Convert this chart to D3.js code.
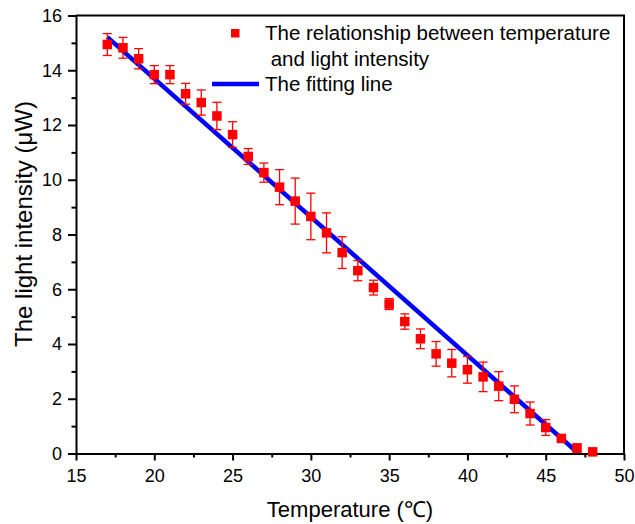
<!DOCTYPE html>
<html>
<head>
<meta charset="utf-8">
<script src="https://cdn.jsdelivr.net/npm/d3@7"></script>
<style>
  html, body { margin: 0; padding: 0; background: #fff; }
  svg { display: block; }
  text { font-family: "Liberation Sans", Arial, sans-serif; fill: #000; }
</style>
</head>
<body>
<svg id="chart" width="635" height="524"></svg>
<script>
// ---- data ----
const temperature = [17,18,19,20,21,22,23,24,25,26,27,28,29,30,31,32,33,34,35,36,37,38,39,40,41,42,43,44,45,46,47,48];
const intensity   = [14.94,14.82,14.42,13.84,13.84,13.14,12.82,12.33,11.65,10.85,10.26,9.73,9.22,8.66,8.06,7.34,6.68,6.06,5.46,4.82,4.19,3.64,3.30,3.06,2.80,2.46,1.98,1.46,0.95,0.55,0.20,0.06];
const errors      = [0.40,0.38,0.37,0.33,0.33,0.38,0.46,0.50,0.47,0.29,0.35,0.64,0.84,0.85,0.73,0.58,0.37,0.27,0.20,0.28,0.36,0.45,0.50,0.49,0.54,0.53,0.49,0.42,0.29,0.10,0.15,0.05];
const fitX = [17, 47.1];
const fitY = [15.21, 0];
const xTicks = [15,20,25,30,35,40,45,50];
const xMinor = [17.5,22.5,27.5,32.5,37.5,42.5,47.5];
const yTicks = [0,2,4,6,8,10,12,14,16];
const yMinor = [1,3,5,7,9,11,13,15];
const legendLabels = ["The relationship between temperature", " and light intensity", "The fitting line"];

// ---- layout ----
const L = 76, R = 624, T = 15.5, B = 453.5;
const svg = d3.select("#chart");
const x = d3.scaleLinear().domain([15, 50]).range([L, R]);
const y = d3.scaleLinear().domain([0, 16]).range([B, T]);

svg.append("clipPath").attr("id", "clip").append("rect")
  .attr("x", L).attr("y", T).attr("width", R - L).attr("height", B - T);

// frame (top and right)
svg.append("path")
  .attr("d", `M${L},${T}H${R}V${B}`)
  .attr("fill", "none").attr("stroke", "#000").attr("stroke-width", 2);

// axes
function styleAxis(g) {
  g.select(".domain").attr("stroke", "#000").attr("stroke-width", 2);
  g.selectAll(".tick line").attr("stroke", "#000").attr("stroke-width", 2);
  g.selectAll(".tick text").style("font-size", "18px").style("font-family", '"Liberation Sans", Arial, sans-serif').attr("fill", "#000");
}
const xAxis = svg.append("g").attr("transform", `translate(0,${B})`)
  .call(d3.axisBottom(x).tickValues(xTicks).tickFormat(d3.format("d")).tickSizeInner(7).tickSizeOuter(0).tickPadding(9));
styleAxis(xAxis);
const xAxisMinor = svg.append("g").attr("transform", `translate(0,${B})`)
  .call(d3.axisBottom(x).tickValues(xMinor).tickFormat("").tickSizeInner(4).tickSizeOuter(0));
styleAxis(xAxisMinor);
xAxisMinor.select(".domain").remove();

const yAxis = svg.append("g").attr("transform", `translate(${L},0)`)
  .call(d3.axisLeft(y).tickValues(yTicks).tickFormat(d3.format("d")).tickSizeInner(8).tickSizeOuter(0).tickPadding(6));
styleAxis(yAxis);
const yAxisMinor = svg.append("g").attr("transform", `translate(${L},0)`)
  .call(d3.axisLeft(y).tickValues(yMinor).tickFormat("").tickSizeInner(4.5).tickSizeOuter(0));
styleAxis(yAxisMinor);
yAxisMinor.select(".domain").remove();

// axis titles
svg.append("text").attr("x", 350).attr("y", 517).attr("text-anchor", "middle")
  .style("font-size", "22px").text("Temperature (℃)");
svg.append("text").attr("transform", "translate(32,224) rotate(-90)").attr("text-anchor", "middle")
  .style("font-size", "24px").text("The light intensity (μW)");

const data = temperature.map((t, i) => ({ t, v: intensity[i], e: errors[i] }));
const plot = svg.append("g").attr("clip-path", "url(#clip)");

// fit line
plot.append("line")
  .attr("x1", x(fitX[0])).attr("y1", y(fitY[0]))
  .attr("x2", x(fitX[1])).attr("y2", y(fitY[1]))
  .attr("stroke", "#0000ff").attr("stroke-width", 4.5);

// error bars
const eb = svg.append("g").attr("stroke", "#ff0000").attr("stroke-width", 1.3);
const cap = 4.5;
data.forEach(d => {
  eb.append("line").attr("x1", x(d.t)).attr("x2", x(d.t)).attr("y1", y(d.v + d.e)).attr("y2", Math.min(B, y(d.v - d.e)));
  eb.append("line").attr("x1", x(d.t) - cap).attr("x2", x(d.t) + cap).attr("y1", y(d.v + d.e)).attr("y2", y(d.v + d.e));
  if (y(d.v - d.e) < B) eb.append("line").attr("x1", x(d.t) - cap).attr("x2", x(d.t) + cap).attr("y1", y(d.v - d.e)).attr("y2", y(d.v - d.e));
});

// markers
const ms = 9.5;
svg.append("g").selectAll("rect").data(data).join("rect")
  .attr("x", d => x(d.t) - ms / 2).attr("y", d => y(d.v) - ms / 2)
  .attr("width", ms).attr("height", ms).attr("fill", "#ff0000");

// legend
const lg = svg.append("g");
lg.append("rect").attr("x", 231).attr("y", 29).attr("width", 8.5).attr("height", 8.5).attr("fill", "#ff0000");
lg.append("text").attr("x", 265).attr("y", 40).style("font-size", "20.5px").text(legendLabels[0]);
lg.append("text").attr("x", 265).attr("y", 65.5).style("font-size", "20.5px").style("white-space", "pre").attr("xml:space", "preserve").text(legendLabels[1]);
lg.append("line").attr("x1", 212).attr("x2", 259).attr("y1", 84).attr("y2", 84).attr("stroke", "#0000ff").attr("stroke-width", 4.5);
lg.append("text").attr("x", 265).attr("y", 91).style("font-size", "20.5px").text(legendLabels[2]);
</script>
</body>
</html>
